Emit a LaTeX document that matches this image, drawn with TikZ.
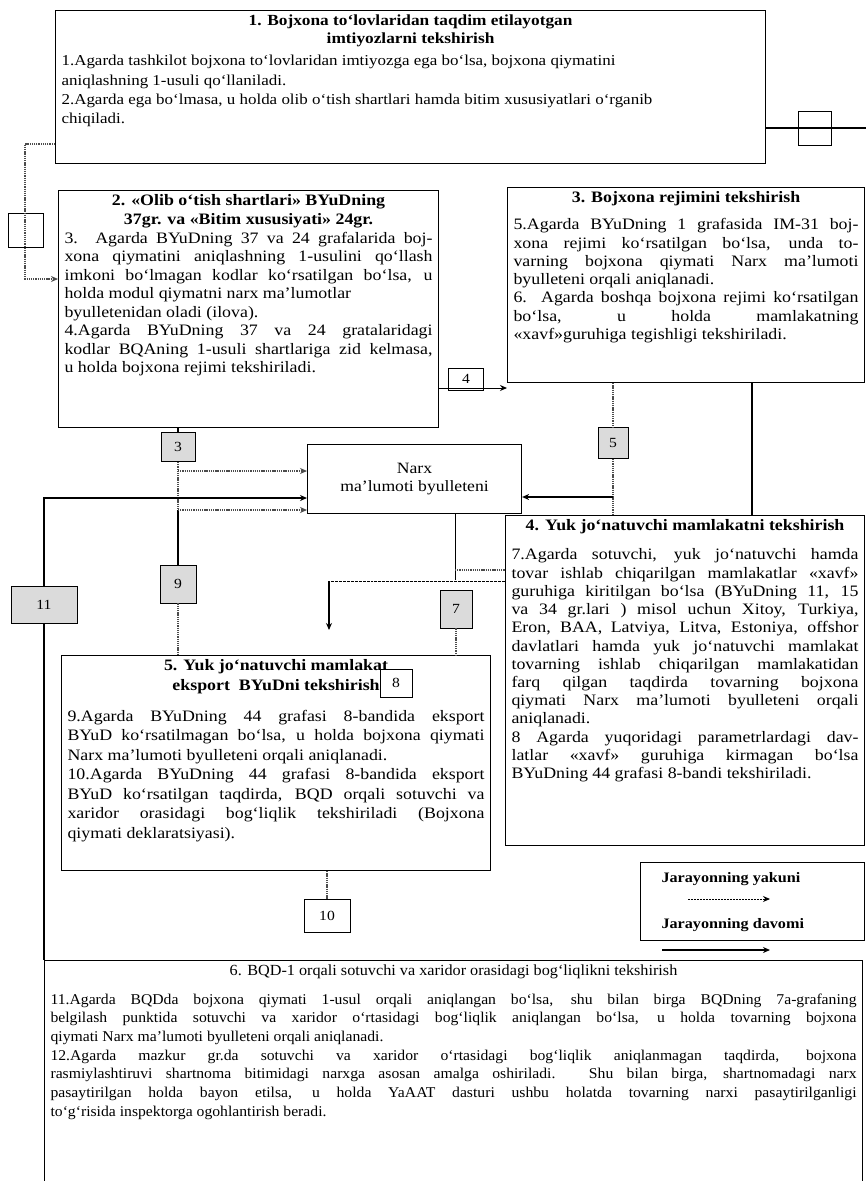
\documentclass[tikz,border=0pt]{standalone}
\usepackage{fontspec}
\setmainfont{Liberation Serif}[FakeStretch=1.12]
\newfontfamily\sixf{Liberation Serif}[FakeStretch=1.05]
\usetikzlibrary{arrows.meta}
\newcommand{\JL}[1]{\makebox[\linewidth][s]{#1}}
\newcommand{\BoxT}[3]{\parbox[c][#2][t]{#1}{#3}}
\begin{document}
\begin{tikzpicture}[x=1bp,y=-1bp,
 bx/.style={draw,line width=1.1pt,fill=white,anchor=north west,inner xsep=6bp,inner ysep=4bp},
 labg/.style={draw,line width=0.9pt,fill=black!14,inner sep=0pt,font=\fontsize{14}{14}\selectfont},
 labw/.style={draw,line width=0.9pt,inner sep=0pt,font=\fontsize{14}{14}\selectfont},
 conn/.style={draw=black,line width=1.3pt},
 dotconn/.style={draw=black!70,line width=2.2pt,dash pattern=on 1.3pt off 0.9pt},
 arr/.style={-{Stealth[length=7bp,width=6bp]}},
]
\fill[white] (0,0) rectangle (866,1181);
\useasboundingbox (0,0) rectangle (866,1181);

% ---- main boxes ----
\node[bx] (b1) at (55,10) {\BoxT{698bp}{145bp}{\fontsize{15.5}{18}\selectfont\centering\bfseries
1. Bojxona to‘lovlaridan taqdim etilayotgan\\ imtiyozlarni tekshirish\par
\vspace{3bp}\raggedright\mdseries\fontsize{15.2}{19.5}\selectfont
1.Agarda tashkilot bojxona to‘lovlaridan imtiyozga ega bo‘lsa, bojxona qiymatini\\
aniqlashning 1-usuli qo‘llaniladi.\\
2.Agarda ega bo‘lmasa, u holda olib o‘tish shartlari hamda bitim xususiyatlari o‘rganib\\
chiqiladi.}};

\node[bx] (b2) at (58,190) {\BoxT{368bp}{229bp}{\fontsize{16}{18.5}\selectfont\centering\bfseries
2. «Olib o‘tish shartlari» BYuDning\\ 37gr. va «Bitim xususiyati» 24gr.\par
\vspace{1bp}\raggedright\mdseries
\JL{3. Agarda BYuDning 37 va 24 grafalarida boj-}\\
\JL{xona qiymatini aniqlashning 1-usulini qo‘llash}\\
\JL{imkoni bo‘lmagan kodlar ko‘rsatilgan bo‘lsa, u}\\
holda modul qiymatni narx ma’lumotlar\\
byulletenidan oladi (ilova).\\
\JL{4.Agarda BYuDning 37 va 24 gratalaridagi}\\
\JL{kodlar BQAning 1-usuli shartlariga zid kelmasa,}\\
u holda bojxona rejimi tekshiriladi.}};

\node[bx] (b3) at (507,187) {\BoxT{345bp}{187bp}{\fontsize{16}{18.3}\selectfont\centering\bfseries
3. Bojxona rejimini tekshirish\par
\vspace{9bp}\raggedright\mdseries
\JL{5.Agarda BYuDning 1 grafasida IM-31 boj-}\\
\JL{xona rejimi ko‘rsatilgan bo‘lsa, unda to-}\\
\JL{varning bojxona qiymati Narx ma’lumoti}\\
byulleteni orqali aniqlanadi.\\
\JL{6. Agarda boshqa bojxona rejimi ko‘rsatilgan}\\
\JL{bo‘lsa, u holda mamlakatning}\\
«xavf»guruhiga tegishligi tekshiriladi.}};

\node[bx] (b4) at (505,515) {\BoxT{347bp}{322bp}{\fontsize{16}{18.3}\selectfont\centering\bfseries
4. Yuk jo‘natuvchi mamlakatni tekshirish\par
\vspace{11bp}\raggedright\mdseries
\JL{7.Agarda sotuvchi, yuk jo‘natuvchi hamda}\\
\JL{tovar ishlab chiqarilgan mamlakatlar «xavf»}\\
\JL{guruhiga kiritilgan bo‘lsa (BYuDning 11, 15}\\
\JL{va 34 gr.lari ) misol uchun Xitoy, Turkiya,}\\
\JL{Eron, BAA, Latviya, Litva, Estoniya, offshor}\\
\JL{davlatlari hamda yuk jo‘natuvchi mamlakat}\\
\JL{tovarning ishlab chiqarilgan mamlakatidan}\\
\JL{farq qilgan taqdirda tovarning bojxona}\\
\JL{qiymati Narx ma'lumoti byulleteni orqali}\\
aniqlanadi.\\
\JL{8 Agarda yuqoridagi parametrlardagi dav-}\\
\JL{latlar «xavf» guruhiga kirmagan bo‘lsa}\\
BYuDning 44 grafasi 8-bandi tekshiriladi.}};

\node[bx] (b5) at (61,655) {\BoxT{417bp}{207bp}{\fontsize{16}{19.5}\selectfont\centering\bfseries
5. Yuk jo‘natuvchi mamlakat\\ eksport\ \ BYuDni tekshirish\par
\vspace{12bp}\raggedright\mdseries
\JL{9.Agarda BYuDning 44 grafasi 8-bandida eksport}\\
\JL{BYuD ko‘rsatilmagan bo‘lsa, u holda bojxona qiymati}\\
Narx ma’lumoti byulleteni orqali aniqlanadi.\\
\JL{10.Agarda BYuDning 44 grafasi 8-bandida eksport}\\
\JL{BYuD ko‘rsatilgan taqdirda, BQD orqali sotuvchi va}\\
\JL{xaridor orasidagi bog‘liqlik tekshiriladi (Bojxona}\\
qiymati deklaratsiyasi).}};

\node[bx] (b6) at (44,960) {\BoxT{806bp}{240bp}{\sixf\fontsize{15.5}{19}\selectfont\centering
6. BQD-1 orqali sotuvchi va xaridor orasidagi bog‘liqlikni tekshirish\par
\vspace{10bp}\raggedright\fontsize{15}{18.8}\selectfont
\JL{11.Agarda BQDda bojxona qiymati 1-usul orqali aniqlangan bo‘lsa, shu bilan birga BQDning 7a-grafaning}\\
\JL{belgilash punktida sotuvchi va xaridor o‘rtasidagi bog‘liqlik aniqlangan bo‘lsa, u holda tovarning bojxona}\\
qiymati Narx ma’lumoti byulleteni orqali aniqlanadi.\\
\JL{12.Agarda mazkur gr.da sotuvchi va xaridor o‘rtasidagi bog‘liqlik aniqlanmagan taqdirda, bojxona}\\
\JL{rasmiylashtiruvi shartnoma bitimidagi narxga asosan amalga oshiriladi. Shu bilan birga, shartnomadagi narx}\\
\JL{pasaytirilgan holda bayon etilsa, u holda YaAAT dasturi ushbu holatda tovarning narxi pasaytirilganligi}\\
to‘g‘risida inspektorga ogohlantirish beradi.}};

\node[bx,minimum width=214bp,minimum height=69bp,align=center,font=\fontsize{15.8}{19}\selectfont] (narx) at (307,444) {Narx\\ma’lumoti byulleteni};

% ---- legend ----
\node[draw,line width=1.1pt,anchor=north west,minimum width=224bp,minimum height=78bp,inner sep=0pt] (lg) at (640,862) {};
\node[anchor=base west,font=\fontsize{14.5}{16}\selectfont\bfseries] (lgt1) at (658,882) {Jarayonning yakuni};
\node[anchor=base west,font=\fontsize{14.5}{16}\selectfont\bfseries] (lgt2) at (658,928) {Jarayonning davomi};

% ---- labels ----
\node[labg,minimum width=34bp,minimum height=29bp] (lab3) at (178,447) {3};
\node[labg,minimum width=30bp,minimum height=31bp] (lab5) at (613,443) {5};
\node[labg,minimum width=36bp,minimum height=38bp] (lab9) at (178,584) {9};
\node[labg,minimum width=66bp,minimum height=37bp] (lab11) at (44,605) {11};
\node[labg,minimum width=32bp,minimum height=38bp] (lab7) at (456,609) {7};
\node[labw,minimum width=35bp,minimum height=22bp] (lab4) at (466,379) {4};
\node[labw,fill=white,minimum width=32bp,minimum height=28bp] (lab8) at (396,683) {8};
\node[labw,minimum width=46bp,minimum height=33bp] (lab10) at (327,916) {10};
\node[labw,minimum width=35bp,minimum height=34bp] (labL) at (25.5,230) {};
\node[labw,minimum width=33bp,minimum height=34bp] (labR) at (814.5,128) {};

% ---- coordinates ----
\coordinate (lc1) at (25,144);
\coordinate (lc2) at (25,279);
\coordinate (rE) at (866,128);
\coordinate (c4) at (470,388);
\coordinate (a3) at (178,471);
\coordinate (a9) at (178,510);
\coordinate (a11) at (44,498);
\coordinate (a5) at (613,497);
\coordinate (c752) at (752,450);
\coordinate (c7) at (455,580);
\coordinate (c7h) at (455,570);
\coordinate (c8) at (329,581);
\coordinate (c8e) at (329,630);
\coordinate (lga) at (688,899);
\coordinate (lgb) at (770,899);
\coordinate (lgc) at (662,950);
\coordinate (lgd) at (770,950);

% ---- connectors ----
\draw[dotconn,arr] (b1.west |- lc1) -- (lc1) -- (lc2) -- (b2.west |- lc2);
\draw[conn,line width=2pt] (b1.east |- rE) -- (rE);
\draw[conn,line width=1pt,arr] (b2.east |- c4) -- (b3.west |- c4);

\draw[conn] (lab3.north |- b2.south) -- (lab3.north);
\draw[dotconn] (lab3.south) -- (a9);
\draw[conn] (a9) -- (lab9.north);
\draw[dotconn] (lab9.south) -- (lab9.south |- b5.north);
\draw[dotconn,arr] (a3) -- (narx.west |- a3);
\draw[dotconn,arr] (a9) -- (narx.west |- a9);

\draw[conn] (lab11.south |- b6.north) -- (lab11.south);
\draw[conn,arr] (lab11.north) -- (a11) -- (narx.west |- a11);

\draw[dotconn] (lab5.north |- b3.south) -- (lab5.north);
\draw[dotconn] (lab5.south) -- (lab5.south |- b4.north);
\draw[conn,arr] (a5) -- (narx.east |- a5);

\draw[conn,line width=2pt] (b3.south -| c752) -- (b4.north -| c752);

\draw[conn,line width=1pt] (narx.south -| c7) -- (c7);
\draw[dotconn] (c7h) -- (b4.west |- c7h);
\draw[dotconn] (lab7.south) -- (lab7.south |- b5.north);

\draw[conn,line width=0.9pt,dash pattern=on 3pt off 1pt] (b4.west |- c8) -- (c8);
\draw[conn,line width=1.2pt,arr] (c8) -- (c8e);

\draw[dotconn] (b5.south -| lab10) -- (lab10.north);

\draw[draw=black,line width=0.9pt,dash pattern=on 2pt off 1pt,arr] (lga) -- (lgb);
\draw[conn,line width=1.1pt,arr] (lgc) -- (lgd);
\end{tikzpicture}
\end{document}
